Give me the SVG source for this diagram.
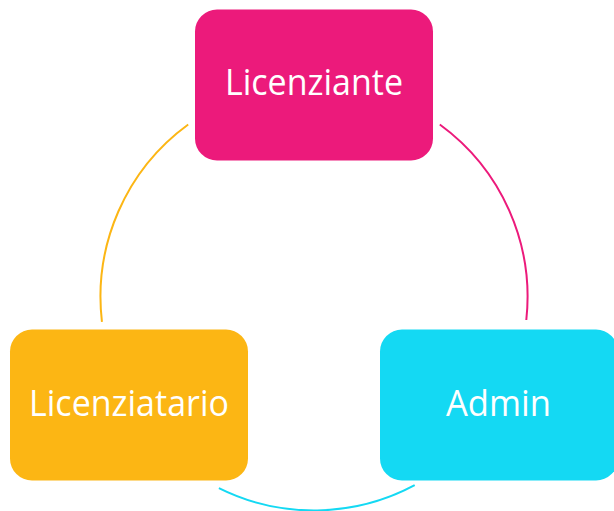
<svg xmlns="http://www.w3.org/2000/svg" width="614" height="511" viewBox="0 0 614 511">
<style>
.arc{fill:none;stroke-width:2;stroke-linecap:butt}
.lbl{font-family:"Open Sans","Noto Sans",sans-serif;font-size:36px;fill:#ffffff;text-anchor:middle}
</style>
<rect width="614" height="511" fill="#ffffff"/>
<g id="connectors">
<path class="arc" stroke="#FCB614" d="M188.2 124.5 A213.5 213.5 0 0 0 101.95 321.9"/>
<path class="arc" stroke="#EC1A7B" d="M439.8 124.5 A213.5 213.5 0 0 1 526.3 320"/>
<path class="arc" stroke="#14D9F3" d="M218.9 488.1 A213.5 213.5 0 0 0 414.7 485.2"/>
</g>
<g id="licenziante">
<rect x="195" y="9.5" width="238" height="151" rx="22" fill="#EC1A7B"/>
<text class="lbl" x="314" y="94.5" textLength="178" lengthAdjust="spacingAndGlyphs">Licenziante</text>
</g>
<g id="licenziatario">
<rect x="10" y="329.5" width="238" height="151" rx="22" fill="#FCB614"/>
<text class="lbl" x="129" y="415.5" textLength="200" lengthAdjust="spacingAndGlyphs">Licenziatario</text>
</g>
<g id="admin">
<rect x="380" y="329.5" width="238" height="151" rx="22" fill="#14D9F3"/>
<text class="lbl" x="498.5" y="415.5" textLength="105" lengthAdjust="spacingAndGlyphs">Admin</text>
</g>
</svg>
